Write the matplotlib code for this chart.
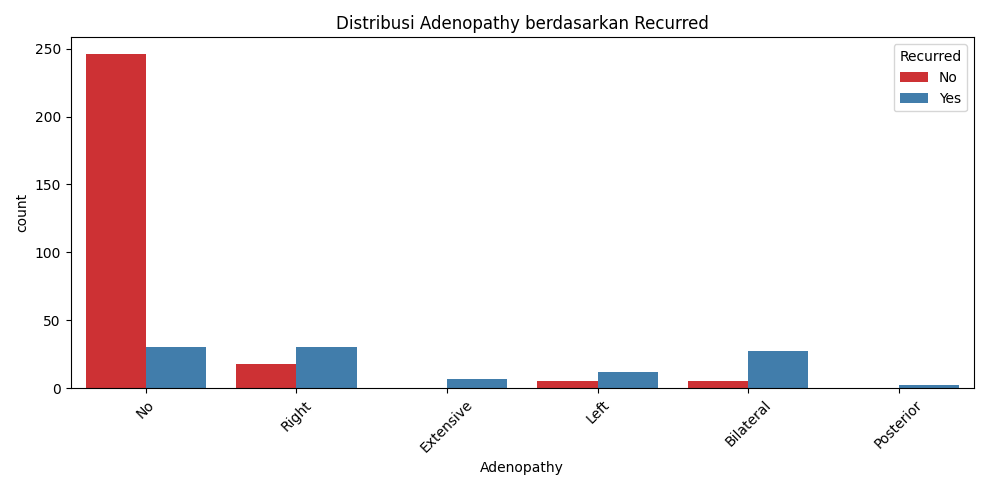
import numpy as np
import matplotlib.pyplot as plt

categories = ["No", "Right", "Extensive", "Left", "Bilateral", "Posterior"]
recurred_no = [246, 18, 0, 5, 5, 0]
recurred_yes = [30, 30, 7, 12, 27, 2]

# Set1 colours with seaborn's default 0.75 saturation
colors = ["#cd3134", "#417dab"]

fig, ax = plt.subplots(figsize=(9.89, 4.9), dpi=100)
x = np.arange(len(categories))
w = 0.4
ax.bar(x - w / 2, recurred_no, w, color=colors[0], label="No")
ax.bar(x + w / 2, recurred_yes, w, color=colors[1], label="Yes")
ax.set_xticks(x)
ax.set_xticklabels(categories, rotation=45)
ax.set_xlim(-0.5, len(categories) - 0.5)
ax.set_xlabel("Adenopathy")
ax.set_ylabel("count")
ax.set_title("Distribusi Adenopathy berdasarkan Recurred")
ax.legend(title="Recurred", loc="upper right")
plt.tight_layout()
plt.savefig("out.png")
